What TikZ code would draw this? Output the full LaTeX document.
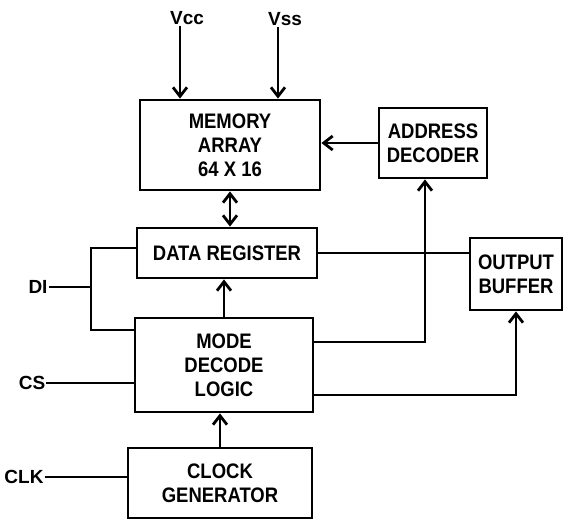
\documentclass[tikz,border=0pt]{standalone}
\usepackage{fontspec}
\setmainfont{Liberation Sans}
\newfontfamily\blkfont{Liberation Sans}[FakeStretch=0.88]
\usetikzlibrary{arrows.meta}

\begin{document}
\begin{tikzpicture}[x=1pt,y=-1pt,
    blk/.style={draw,line width=2.8pt,align=center,inner sep=0pt,
      font=\blkfont\bfseries\fontsize{21}{24}\selectfont},
    pin/.style={inner sep=1pt,font=\bfseries\fontsize{19}{22}\selectfont},
    wire/.style={line width=2.8pt},
    >={Straight Barb[length=9pt,width=14pt]}]
  \useasboundingbox (0,0) rectangle (565,522);
  % blocks
  \node[blk,minimum width=180,minimum height=90] (mem) at (230,145) {MEMORY\\ARRAY\\64 X 16};
  \node[blk,minimum width=108,minimum height=70] (addr) at (433,143) {ADDRESS\\DECODER};
  \node[blk,minimum width=180,minimum height=50] (data) at (227,253) {DATA REGISTER};
  \node[blk,minimum width=92,minimum height=72] (out) at (516,274) {OUTPUT\\BUFFER};
  \node[blk,minimum width=178,minimum height=94] (mode) at (224,365) {MODE\\DECODE\\LOGIC};
  \node[blk,minimum width=184,minimum height=70] (clock) at (220,483) {CLOCK\\GENERATOR};
  % pins
  \node[pin] (vcc) at (187,18) {Vcc};
  \node[pin] (vss) at (285,19) {Vss};
  \node[pin] (di) at (38,287) {DI};
  \node[pin] (cs) at (32,383) {CS};
  \node[pin] (clk) at (24,477) {CLK};
  \coordinate (dij) at (91,287);
  % supply
  \draw[wire,->] ([xshift=-7]vcc.south) -- ([xshift=-7]vcc.south |- mem.north);
  \draw[wire,->] ([xshift=-7]vss.south) -- ([xshift=-7]vss.south |- mem.north);
  % data path
  \draw[wire,->] (addr.west) -- (addr.west -| mem.east);
  \draw[wire,<->] (mem.south) -- (mem.south |- data.north);
  \draw[wire,->] (mode.north) -- (mode.north |- data.south);
  \draw[wire,->] (clock.north) -- (clock.north |- mode.south);
  \draw[wire] (data.east) -- (data.east -| out.west);
  \draw[wire,->] ([yshift=23]mode.east) -| ([xshift=-8]addr.south);
  \draw[wire,->] ([yshift=-30]mode.east) -| (out.south);
  % inputs
  \draw[wire] (di.east) -- (di.east -| dij);
  \draw[wire] ([yshift=5]data.west) -| (dij) |- ([yshift=35]mode.west);
  \draw[wire] (cs.east) -- (cs.east -| mode.west);
  \draw[wire] (clk.east) -- (clk.east -| clock.west);
\end{tikzpicture}
\end{document}
